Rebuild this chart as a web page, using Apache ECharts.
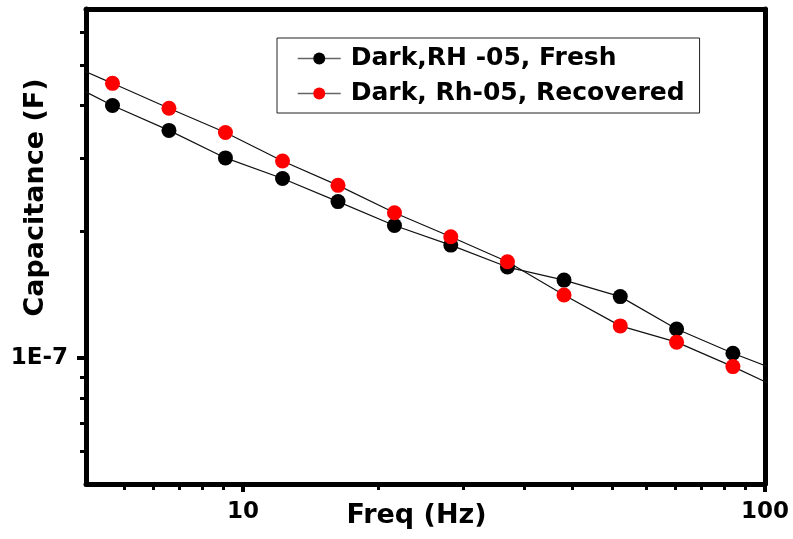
<!DOCTYPE html>
<html>
<head>
<meta charset="utf-8">
<script src="https://cdn.jsdelivr.net/npm/echarts@6/dist/echarts.min.js"></script>
<style>html,body{margin:0;padding:0;background:#fff}#c{width:793px;height:539px}</style>
</head>
<body>
<div id="c"></div>
<script>
// Data (first and last points lie outside the visible range and are clipped)
const freqHz = [4.38, 5.62, 7.21, 9.25, 11.9, 15.2, 19.5, 25.0, 32.1, 41.2, 52.8, 67.7, 86.8, 111.4];
const freshCap = [4.69e-7, 4.00e-7, 3.49e-7, 3.00e-7, 2.68e-7, 2.36e-7, 2.07e-7, 1.858e-7, 1.647e-7, 1.533e-7, 1.40e-7, 1.172e-7, 1.026e-7, 0.909e-7];
const recoveredCap = [5.17e-7, 4.52e-7, 3.94e-7, 3.45e-7, 2.95e-7, 2.58e-7, 2.22e-7, 1.945e-7, 1.696e-7, 1.413e-7, 1.192e-7, 1.090e-7, 0.953e-7, 0.824e-7];
const seriesNames = ['Dark,RH -05, Fresh', 'Dark, Rh-05, Recovered'];

// Axis ticks
const xMajor = [10, 100];
const xMinor = [5.91, 6.73, 7.55, 8.36, 9.18, 18.18, 26.36, 34.55, 42.73, 50.91, 59.09, 67.27, 75.45, 83.64, 91.82];
const yMajor = [1e-7];
const yMinor = [6e-8, 7e-8, 8e-8, 9e-8, 2e-7, 3e-7, 4e-7, 5e-7, 6e-7];
const xRange = [5, 100];
const yRange = [5e-8, 6.8e-7];

const FONT = 'DejaVu Sans';
const chart = echarts.init(document.getElementById('c'), null, {renderer: 'canvas'});

function pairs(xs, ys) { return xs.map((x, i) => [x, ys[i]]); }
function sciLabel(v) { return '1E' + Math.round(Math.log10(v)); }

const baseAxis = (extra) => Object.assign({
  type: 'log', logBase: 10, splitLine: {show: false}, minorTick: {show: false}, minorSplitLine: {show: false},
  nameMoveOverlap: false
}, extra);

const option = {
  backgroundColor: '#fff',
  animation: false,
  grid: {left: 86, top: 9, width: 679, height: 475, containLabel: false, outerBoundsMode: 'none'},
  legend: {
    orient: 'vertical', left: 277, top: 38,
    padding: [8, 15, 7, 20], itemGap: 10,
    itemWidth: 43, itemHeight: 15,
    borderColor: '#222', borderWidth: 1, backgroundColor: '#fff',
    lineStyle: {color: '#666', width: 1.5},
    textStyle: {fontFamily: FONT, fontWeight: 'bold', fontSize: 25, color: '#000', padding: [0, 0, 0, 5]},
    data: seriesNames
  },
  xAxis: [
    baseAxis({min: xRange[0], max: xRange[1], position: 'bottom',
      name: 'Freq (Hz)', nameLocation: 'middle', nameGap: 18,
      nameTextStyle: {fontFamily: FONT, fontWeight: 'bold', fontSize: 27, color: '#000', padding: [0, 18, 0, 0]},
      axisLine: {show: true, lineStyle: {color: '#000', width: 5}},
      axisTick: {show: true, inside: false, length: 8, lineStyle: {color: '#000', width: 4}, customValues: xMajor},
      axisLabel: {show: true, margin: 17, fontFamily: FONT, fontWeight: 'bold', fontSize: 23, color: '#000',
        customValues: xMajor, formatter: v => String(Math.round(v))}}),
    baseAxis({min: xRange[0], max: xRange[1], position: 'bottom',
      axisLine: {show: false},
      axisTick: {show: true, inside: false, length: 6, lineStyle: {color: '#000', width: 3}, customValues: xMinor},
      axisLabel: {show: false}}),
    baseAxis({min: xRange[0], max: xRange[1], position: 'top',
      axisLine: {show: true, lineStyle: {color: '#000', width: 5}},
      axisTick: {show: false}, axisLabel: {show: false}})
  ],
  yAxis: [
    baseAxis({min: yRange[0], max: yRange[1], position: 'left',
      name: 'Capacitance (F)', nameLocation: 'middle', nameGap: 37, nameRotate: 90,
      nameTextStyle: {fontFamily: FONT, fontWeight: 'bold', fontSize: 27, color: '#000', padding: [0, 0, 0, 98]},
      axisLine: {show: true, lineStyle: {color: '#000', width: 5}},
      axisTick: {show: true, inside: false, length: 9, lineStyle: {color: '#000', width: 4}, customValues: yMajor},
      axisLabel: {show: true, margin: 18, fontFamily: FONT, fontWeight: 'bold', fontSize: 23, color: '#000',
        customValues: yMajor, formatter: sciLabel}}),
    baseAxis({min: yRange[0], max: yRange[1], position: 'left',
      axisLine: {show: false},
      axisTick: {show: true, inside: false, length: 6, lineStyle: {color: '#000', width: 3}, customValues: yMinor},
      axisLabel: {show: false}}),
    baseAxis({min: yRange[0], max: yRange[1], position: 'right',
      axisLine: {show: true, lineStyle: {color: '#000', width: 5}},
      axisTick: {show: false}, axisLabel: {show: false}})
  ],
  series: [
    {name: seriesNames[0], type: 'line', xAxisIndex: 0, yAxisIndex: 0, clip: true,
      data: pairs(freqHz, freshCap), symbol: 'circle', symbolSize: 15, showAllSymbol: true,
      lineStyle: {color: '#111', width: 1.2}, itemStyle: {color: '#000'}, z: 3},
    {name: seriesNames[1], type: 'line', xAxisIndex: 0, yAxisIndex: 0, clip: true,
      data: pairs(freqHz, recoveredCap), symbol: 'circle', symbolSize: 15, showAllSymbol: true,
      lineStyle: {color: '#111', width: 1.2}, itemStyle: {color: '#ff0000'}, z: 4}
  ]
};
chart.setOption(option);
</script>
</body>
</html>
